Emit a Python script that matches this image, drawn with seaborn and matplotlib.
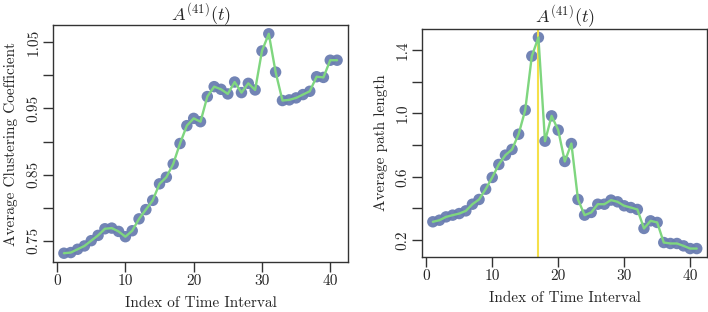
import numpy as np
import pandas as pd
import matplotlib
matplotlib.use("Agg")
import matplotlib.pyplot as plt
import seaborn as sns
from matplotlib.ticker import FixedLocator, FixedFormatter

sns.set_theme(style="white")
plt.rcParams['font.family'] = ['cmr10', 'DejaVu Serif']
plt.rcParams['mathtext.fontset'] = 'cm'
plt.rcParams['axes.formatter.use_mathtext'] = True

index = list(range(1, 42))
clustering = [0.731, 0.732, 0.737, 0.742, 0.750, 0.758, 0.768, 0.769, 0.764, 0.756,
              0.765, 0.783, 0.797, 0.811, 0.836, 0.846, 0.866, 0.897, 0.924, 0.935,
              0.930, 0.968, 0.983, 0.979, 0.972, 0.990, 0.974, 0.988, 0.978, 1.037,
              1.063, 1.005, 0.962, 0.963, 0.966, 0.971, 0.976, 0.998, 0.997, 1.023,
              1.023]
path_length = [0.316, 0.326, 0.347, 0.358, 0.368, 0.385, 0.427, 0.457, 0.522, 0.596,
               0.678, 0.737, 0.773, 0.869, 1.021, 1.362, 1.480, 0.825, 0.985, 0.895,
               0.697, 0.810, 0.457, 0.358, 0.375, 0.427, 0.427, 0.453, 0.442, 0.417,
               0.406, 0.394, 0.274, 0.322, 0.312, 0.185, 0.179, 0.179, 0.164, 0.147,
               0.147]
peak_index = 17

title = r"$A^{(41)}(t)$"
xlabel = "Index of Time Interval"
left_ylabel = "Average Clustering Coefficient"
right_ylabel = "Average path length"
x_ticks = [0, 10, 20, 30, 40]
left_yticks = [0.75, 0.80, 0.85, 0.90, 0.95, 1.00, 1.05]
left_ylabels = ["0.75", "", "0.85", "", "0.95", "", "1.05"]
right_yticks = [0.2, 0.4, 0.6, 0.8, 1.0, 1.2, 1.4]
right_ylabels = ["0.2", "", "0.6", "", "1.0", "", "1.4"]

df = pd.DataFrame({"idx": index, "cc": clustering, "apl": path_length})

point_color = "#6a7db1"
line_color = "#7fd67f"
box_color = "#333333"

fig = plt.figure(figsize=(7.08, 3.12), dpi=100)
ax1 = fig.add_axes([53/708, 1-262/312, (348-53)/708, (262-25)/312])
ax2 = fig.add_axes([422.3/708, 1-257/312, (707.3-422.3)/708, (257-29)/312])


def style(ax, y, yticks, ylabels, ylabel, title_pad):
    sns.scatterplot(data=df, x="idx", y=y, ax=ax, s=68, color=point_color,
                    edgecolor="none", alpha=0.95, zorder=2)
    sns.lineplot(data=df, x="idx", y=y, ax=ax, color=line_color, lw=1.7, zorder=3)
    lo, hi = min(df[y]), max(df[y])
    pad = (hi - lo) * 0.04
    ax.set_ylim(lo - pad, hi + pad)
    ax.set_xlim(1 - 40 * 0.04, 41 + 40 * 0.04)
    ax.xaxis.set_major_locator(FixedLocator(x_ticks))
    ax.set_xticklabels([str(t) for t in x_ticks], fontsize=11)
    ax.yaxis.set_major_locator(FixedLocator(yticks))
    ax.yaxis.set_major_formatter(FixedFormatter(ylabels))
    for lab in ax.get_yticklabels():
        lab.set_rotation(90)
        lab.set_va("center")
        lab.set_fontsize(11)
    ax.tick_params(axis="both", direction="out", length=7, width=1, color=box_color,
                   pad=2, left=True, bottom=True)
    for sp in ax.spines.values():
        sp.set_color(box_color)
        sp.set_linewidth(1.0)
        sp.set_visible(True)
    ax.set_xlabel(xlabel, fontsize=11, labelpad=6)
    ax.set_ylabel(ylabel, fontsize=11, labelpad=6)
    ax.set_title(title, fontsize=13, pad=title_pad)


style(ax1, "cc", left_yticks, left_ylabels, left_ylabel, 3)
style(ax2, "apl", right_yticks, right_ylabels, right_ylabel, 5)
ax2.axvline(peak_index, color="#f5e04a", lw=1.5, zorder=2.5)

fig.savefig("out.png", dpi=100)
